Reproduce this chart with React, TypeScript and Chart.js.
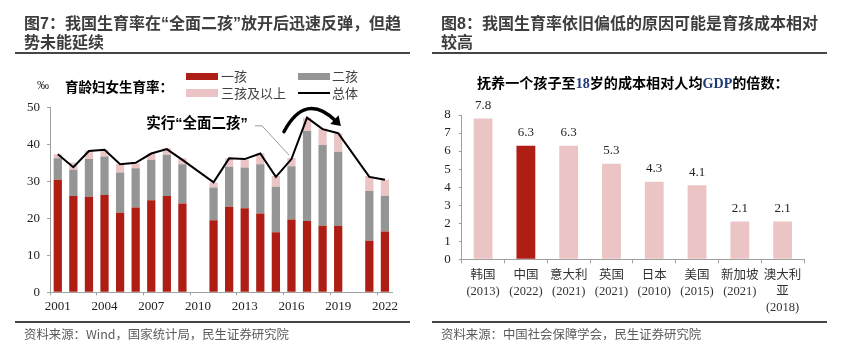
import React, { useEffect, useRef } from 'react';
import { Chart, registerables } from 'chart.js';

Chart.register(...registerables);

// ---------- Data: left chart (育龄妇女生育率, ‰) ----------
const years = ['2001', '2002', '2003', '2004', '2005', '2006', '2007', '2008', '2009', '2010', '2011',
  '2012', '2013', '2014', '2015', '2016', '2017', '2018', '2019', '2020', '2021', '2022'];
const firstChild = [30.4, 26.0, 25.8, 26.3, 21.5, 22.9, 24.9, 26.0, 24.0, null, 19.5,
  23.1, 22.7, 21.3, 16.2, 19.7, 19.3, 18.0, 17.9, null, 13.9, 16.4];
const secondChild = [5.8, 7.1, 10.2, 10.4, 10.9, 10.6, 10.9, 11.2, 10.6, null, 8.8,
  10.8, 11.0, 13.3, 12.3, 14.4, 24.3, 21.8, 20.1, null, 13.5, 9.7];
const thirdPlus = [1.1, 2.0, 2.3, 1.8, 2.3, 1.4, 1.8, 1.7, 1.6, null, 1.4,
  2.3, 2.2, 3.0, 2.9, 2.2, 3.6, 4.5, 5.0, null, 4.0, 4.3];
const totalRate = [37.3, 33.8, 38.2, 38.5, 34.6, 35.0, 37.5, 38.7, 35.8, null, 29.7,
  36.2, 36.0, 37.5, 31.2, 36.0, 47.2, 44.1, 43.0, null, 31.2, 30.4];

// ---------- Data: right chart (抚养成本 / 人均GDP) ----------
const countries = [
  ['韩国', '(2013)'], ['中国', '(2022)'], ['意大利', '(2021)'], ['英国', '(2021)'],
  ['日本', '(2010)'], ['美国', '(2015)'], ['新加坡', '(2021)'], ['澳大利', '亚', '(2018)'],
];
const costMultiples = [7.8, 6.3, 6.3, 5.3, 4.3, 4.1, 2.1, 2.1];
const highlightCountry = '中国';

const RED = '#AF1E15';
const GRAY = '#959595';
const PINK = '#EBC5C5';
const AXIS = '#A0A0A0';
const SERIF = '"Liberation Serif", "Noto Sans CJK SC", serif';
const SANS = '"Noto Sans CJK SC", "Noto Sans", sans-serif';
const MIXED = '"Liberation Sans", "Noto Sans CJK SC", sans-serif';

const leftAnnotation = {
  id: 'leftAnnotation',
  afterDatasetsDraw(chart: any) {
    const { ctx } = chart;
    const x = chart.scales.x;
    const y = chart.scales.y;
    const px = (i: number) => x.getPixelForValue(i);
    const py = (v: number) => y.getPixelForValue(v);
    ctx.save();
    // label
    ctx.font = `bold 14.5px ${MIXED}`;
    ctx.fillStyle = '#000';
    ctx.textAlign = 'right';
    ctx.textBaseline = 'middle';
    ctx.fillText('实行“全面二孩”', px(12.2), py(45.4));
    // leader line
    ctx.strokeStyle = '#9A9A9A';
    ctx.lineWidth = 1;
    ctx.beginPath();
    ctx.moveTo(px(12.66), py(45.0));
    ctx.lineTo(px(13.11), py(45.0));
    ctx.lineTo(px(14.84), py(37.1));
    ctx.stroke();
    // curved arrow
    const sx = px(14.52), sy = py(43.4);
    const cx = px(15.9), cy = py(54.3);
    const ex = px(17.85), ey = py(46.3);
    ctx.strokeStyle = '#000';
    ctx.lineWidth = 3.5;
    ctx.lineCap = 'round';
    ctx.beginPath();
    ctx.moveTo(sx, sy);
    ctx.quadraticCurveTo(cx, cy, ex, ey);
    ctx.stroke();
    const dx = ex - cx, dy = ey - cy;
    const len = Math.sqrt(dx * dx + dy * dy);
    const ux = dx / len, uy = dy / len;
    const nx = -uy, ny = ux;
    ctx.fillStyle = '#000';
    ctx.beginPath();
    ctx.moveTo(ex + ux * 7, ey + uy * 7);
    ctx.lineTo(ex - ux * 2 + nx * 6, ey - uy * 2 + ny * 6);
    ctx.lineTo(ex - ux * 2 - nx * 6, ey - uy * 2 - ny * 6);
    ctx.closePath();
    ctx.fill();
    ctx.restore();
  },
};

const rightValueLabels = {
  id: 'rightValueLabels',
  afterDatasetsDraw(chart: any) {
    const { ctx } = chart;
    const meta = chart.getDatasetMeta(0);
    ctx.save();
    ctx.font = `13px ${SERIF}`;
    ctx.fillStyle = '#222';
    ctx.textAlign = 'center';
    ctx.textBaseline = 'middle';
    meta.data.forEach((bar: any, i: number) => {
      ctx.fillText(costMultiples[i].toFixed(1), bar.x, bar.y - 13);
    });
    ctx.restore();
  },
};

function LeftChart() {
  const ref = useRef<HTMLCanvasElement | null>(null);
  useEffect(() => {
    const chart = new Chart(ref.current as HTMLCanvasElement, {
      type: 'bar',
      data: {
        labels: years,
        datasets: [
          {
            type: 'line', label: '总体', data: totalRate, borderColor: '#000', borderWidth: 2,
            pointRadius: 0, spanGaps: true, order: 0, stack: 'line', tension: 0,
          } as any,
          { type: 'bar', label: '一孩', data: firstChild, backgroundColor: RED, order: 1, stack: 'b', barPercentage: 0.53, categoryPercentage: 1 },
          { type: 'bar', label: '二孩', data: secondChild, backgroundColor: GRAY, order: 1, stack: 'b', barPercentage: 0.53, categoryPercentage: 1 },
          { type: 'bar', label: '三孩及以上', data: thirdPlus, backgroundColor: PINK, order: 1, stack: 'b', barPercentage: 0.53, categoryPercentage: 1 },
        ],
      },
      options: {
        animation: false,
        responsive: true,
        maintainAspectRatio: false,
        layout: { padding: { left: 10, right: 37.3, top: 107.3, bottom: 33.7 } },
        plugins: { legend: { display: false }, tooltip: { enabled: false }, title: { display: false } },
        scales: {
          x: {
            stacked: true,
            grid: {
              display: true, drawOnChartArea: false, offset: true, tickLength: 3,
              tickColor: (c: any) => (c.index % 3 === 0 ? AXIS : 'rgba(0,0,0,0)'),
            },
            border: { color: AXIS, width: 1 },
            ticks: {
              autoSkip: false, maxRotation: 0, minRotation: 0, padding: 3, color: '#222',
              font: { family: SERIF, size: 13 },
              callback: (_v: any, i: number) => (i % 3 === 0 ? years[i] : ''),
            },
            afterFit: (s: any) => { s.height = 30; },
          },
          y: {
            stacked: true, min: 0, max: 50,
            grid: { drawOnChartArea: false, tickLength: 3, color: AXIS },
            border: { color: AXIS, width: 1 },
            ticks: { stepSize: 10, autoSkip: false, padding: 7, color: '#222', font: { family: SERIF, size: 13 } },
            afterFit: (s: any) => { s.width = 40; },
          },
        },
      } as any,
      plugins: [leftAnnotation],
    });
    return () => chart.destroy();
  }, []);
  return (
    <div style={{ position: 'absolute', left: 0, top: 0, width: 430, height: 356 }}>
      <canvas ref={ref} />
    </div>
  );
}

function RightChart() {
  const ref = useRef<HTMLCanvasElement | null>(null);
  useEffect(() => {
    const chart = new Chart(ref.current as HTMLCanvasElement, {
      type: 'bar',
      data: {
        labels: countries,
        datasets: [
          {
            label: '倍数', data: costMultiples,
            backgroundColor: countries.map((c) => (c[0] === highlightCountry ? RED : PINK)),
            barPercentage: 0.44, categoryPercentage: 1,
          },
        ],
      },
      options: {
        animation: false,
        responsive: true,
        maintainAspectRatio: false,
        layout: { padding: { left: 7.7, right: 53, top: 115, bottom: 36.7 } },
        plugins: { legend: { display: false }, tooltip: { enabled: false }, title: { display: false } },
        scales: {
          x: {
            grid: { display: true, drawOnChartArea: false, offset: true, tickLength: 4, color: AXIS },
            border: { color: AXIS, width: 1 },
            ticks: {
              autoSkip: false, maxRotation: 0, minRotation: 0, padding: 4, color: '#333',
              font: { family: SERIF, size: 12.5, lineHeight: '16px' },
            },
            afterFit: (s: any) => { s.height = 60; },
          },
          y: {
            min: 0, max: 8,
            grid: { drawOnChartArea: false, tickLength: 3, color: AXIS },
            border: { color: AXIS, width: 1 },
            ticks: { stepSize: 1, autoSkip: false, padding: 8, color: '#222', font: { family: SERIF, size: 13 } },
            afterFit: (s: any) => { s.width = 24; },
          },
        },
      } as any,
      plugins: [rightValueLabels],
    });
    return () => chart.destroy();
  }, []);
  return (
    <div style={{ position: 'absolute', left: 430, top: 0, width: 427, height: 356 }}>
      <canvas ref={ref} />
    </div>
  );
}

const titleStyle: React.CSSProperties = {
  position: 'absolute', top: 13.5, fontFamily: MIXED, fontWeight: 700, fontSize: 16,
  lineHeight: '19px', color: '#3D3D3D', whiteSpace: 'nowrap',
};
const ruleStyle: React.CSSProperties = { position: 'absolute', height: 2, background: '#454545' };
const sourceStyle: React.CSSProperties = {
  position: 'absolute', top: 326, fontFamily: SANS, fontSize: 12.4, lineHeight: '16px',
  color: '#5A5A5A', whiteSpace: 'nowrap',
};
const legendText: React.CSSProperties = {
  position: 'absolute', fontFamily: SANS, fontSize: 13, lineHeight: '16px', color: '#404040', whiteSpace: 'nowrap',
};

export default function App() {
  return (
    <div style={{ position: 'absolute', left: 0, top: 0, width: 857, height: 356, background: '#fff', overflow: 'hidden' }}>
      <LeftChart />
      <RightChart />

      {/* titles */}
      <div style={{ ...titleStyle, left: 24 }}>
        图7：我国生育率在“全面二孩”放开后迅速反弹，但趋<br />势未能延续
      </div>
      <div style={{ ...titleStyle, left: 441 }}>
        图8：我国生育率依旧偏低的原因可能是育孩成本相对<br />较高
      </div>
      <div style={{ ...ruleStyle, left: 15, top: 52, width: 395 }} />
      <div style={{ ...ruleStyle, left: 432, top: 52, width: 395 }} />

      {/* left legend */}
      <div style={{ position: 'absolute', left: 37, top: 77, fontFamily: SERIF, fontSize: 12, lineHeight: '16px', color: '#222' }}>‰</div>
      <div style={{ position: 'absolute', left: 65, top: 77, fontFamily: SANS, fontWeight: 700, fontSize: 13.5, lineHeight: '18px', color: '#000', whiteSpace: 'nowrap' }}>育龄妇女生育率：</div>
      <div style={{ position: 'absolute', left: 186, top: 72.5, width: 32, height: 7.5, background: RED }} />
      <div style={{ ...legendText, left: 221, top: 68 }}>一孩</div>
      <div style={{ position: 'absolute', left: 298, top: 72.5, width: 32, height: 7.5, background: GRAY }} />
      <div style={{ ...legendText, left: 332, top: 68 }}>二孩</div>
      <div style={{ position: 'absolute', left: 186, top: 89.3, width: 32, height: 7.5, background: PINK }} />
      <div style={{ ...legendText, left: 221, top: 85 }}>三孩及以上</div>
      <div style={{ position: 'absolute', left: 298, top: 92.3, width: 32, height: 2, background: '#000' }} />
      <div style={{ ...legendText, left: 332, top: 85 }}>总体</div>

      {/* right subtitle */}
      <div style={{ position: 'absolute', left: 477, top: 73, fontFamily: SANS, fontWeight: 700, fontSize: 14.1, lineHeight: '18px', color: '#000', whiteSpace: 'nowrap' }}>
        抚养一个孩子至<span style={{ fontFamily: SERIF, color: '#1F3A78' }}>18</span>岁的成本相对人均<span style={{ fontFamily: SERIF, color: '#1F3A78' }}>GDP</span>的倍数：
      </div>

      {/* bottom rules & sources */}
      <div style={{ ...ruleStyle, left: 15, top: 321, width: 395 }} />
      <div style={{ ...ruleStyle, left: 432, top: 321, width: 395 }} />
      <div style={{ ...sourceStyle, left: 24 }}>资料来源：Wind，国家统计局，民生证券研究院</div>
      <div style={{ ...sourceStyle, left: 441 }}>资料来源：中国社会保障学会，民生证券研究院</div>
    </div>
  );
}
